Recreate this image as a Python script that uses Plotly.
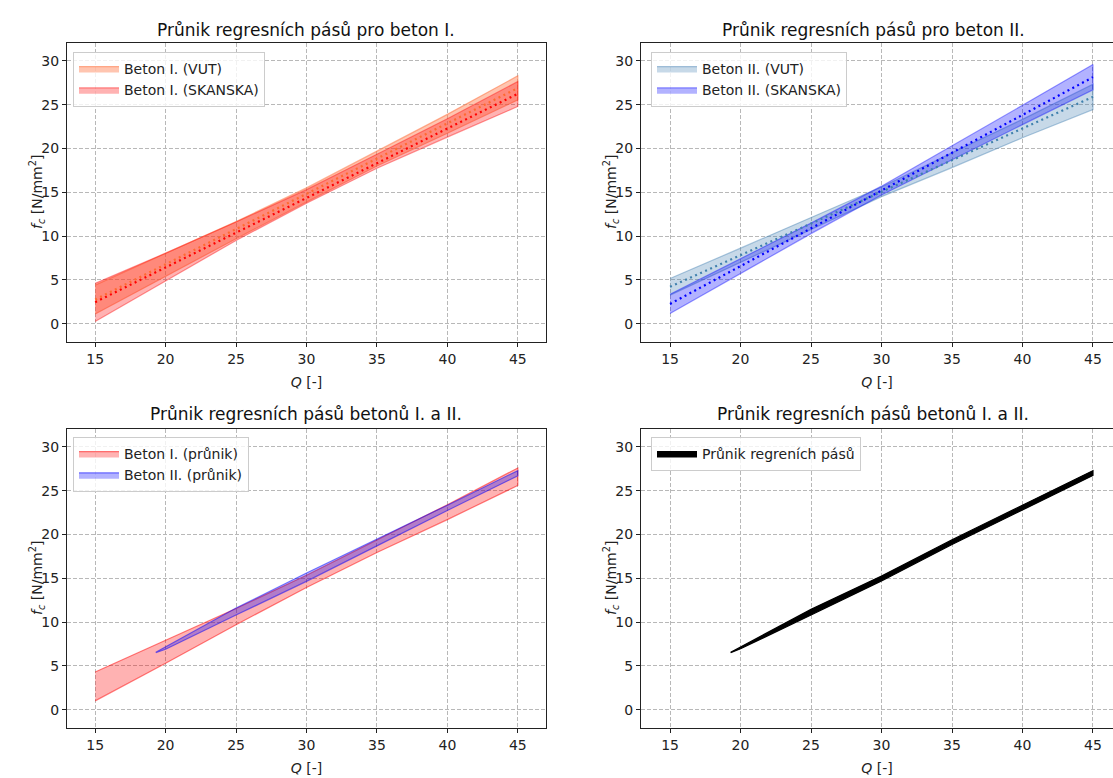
import plotly.graph_objects as go

# ---------------- data ----------------
Q = [15, 20, 25, 30, 35, 40, 45]

# Beton I
vut1_lo = [1.1, 5.4, 9.7, 13.9, 18.0, 21.75, 25.55]
vut1_hi = [4.4, 8.0, 11.65, 15.5, 19.7, 23.9, 28.3]
vut1_mean = [2.75, 6.77, 10.8, 14.82, 18.85, 22.87, 26.9]
sk1_lo = [0.25, 4.9, 9.5, 13.75, 17.75, 21.3, 24.8]
sk1_hi = [4.6, 8.05, 11.6, 15.3, 19.35, 23.4, 27.65]
sk1_mean = [2.45, 6.42, 10.38, 14.35, 18.32, 22.28, 26.25]

# Beton II
vut2_lo = [3.25, 7.02, 10.78, 14.5, 17.82, 21.23, 24.45]
vut2_hi = [5.15, 8.62, 12.08, 15.6, 19.52, 23.33, 27.35]
vut2_mean = [4.2, 7.82, 11.43, 15.05, 18.67, 22.28, 25.9]
sk2_lo = [1.15, 5.72, 10.28, 14.7, 18.75, 22.73, 26.7]
sk2_hi = [3.35, 7.42, 11.48, 15.7, 20.29, 24.93, 29.6]
sk2_mean = [2.25, 6.57, 10.88, 15.2, 19.52, 23.83, 28.15]

# Intersections
int1_lo = [1.0, 5.3, 9.7, 13.95, 17.95, 21.7, 25.6]
int1_hi = [4.3, 7.95, 11.55, 15.35, 19.4, 23.4, 27.6]
Q2 = [19.3, 20, 25, 30, 35, 40, 45]
int2_lo = [6.5, 6.9, 10.8, 14.65, 18.7, 22.75, 26.7]
int2_hi = [6.55, 7.1, 11.6, 15.6, 19.5, 23.35, 27.3]
all_lo = [6.5, 6.95, 10.8, 14.7, 18.85, 22.8, 26.75]
all_hi = [6.55, 7.15, 11.45, 15.25, 19.4, 23.35, 27.3]

titles = ["Průnik regresních pásů pro beton I.", "Průnik regresních pásů pro beton II.",
          "Průnik regresních pásů betonů I. a II.", "Průnik regresních pásů betonů I. a II."]
x_ticks = [15, 20, 25, 30, 35, 40, 45]
y_ticks = [0, 5, 10, 15, 20, 25, 30]
y_title = "<i>f</i><sub><i>c</i></sub> [N/mm<sup>2</sup>]"

FONT = "DejaVu Sans"
fig = go.Figure()


def band(x, lo, hi, fill, line, name, ax, leg):
    fig.add_trace(go.Scatter(
        x=list(x) + list(x)[::-1], y=list(lo) + list(hi)[::-1],
        fill="toself", fillcolor=fill, mode="lines",
        line=dict(color=line, width=1.2), name=name,
        xaxis="x" + ax, yaxis="y" + ax, legend=leg, hoverinfo="skip"))


def mean_line(x, y, color, ax):
    fig.add_trace(go.Scatter(
        x=x, y=y, mode="lines", line=dict(color=color, width=2.2, dash="2px,3.5px"),
        showlegend=False, xaxis="x" + ax, yaxis="y" + ax, hoverinfo="skip"))


# subplot 1
band(Q, vut1_lo, vut1_hi, "rgba(255,127,80,0.45)", "rgba(255,127,80,0.6)", "Beton I. (VUT)", "", "legend")
band(Q, sk1_lo, sk1_hi, "rgba(255,0,0,0.3)", "rgba(255,0,0,0.4)", "Beton I. (SKANSKA)", "", "legend")
mean_line(Q, vut1_mean, "#ff6a30", "")
mean_line(Q, sk1_mean, "#ff0000", "")

# subplot 2
band(Q, vut2_lo, vut2_hi, "rgba(70,130,180,0.3)", "rgba(70,130,180,0.45)", "Beton II. (VUT)", "2", "legend2")
band(Q, sk2_lo, sk2_hi, "rgba(0,0,255,0.3)", "rgba(0,0,255,0.4)", "Beton II. (SKANSKA)", "2", "legend2")
mean_line(Q, vut2_mean, "#3f80ad", "2")
mean_line(Q, sk2_mean, "#0000ff", "2")

# subplot 3
band(Q, int1_lo, int1_hi, "rgba(255,0,0,0.3)", "rgba(255,0,0,0.5)", "Beton I. (průnik)", "3", "legend3")
band(Q2, int2_lo, int2_hi, "rgba(0,0,255,0.3)", "rgba(0,0,255,0.5)", "Beton II. (průnik)", "3", "legend3")

# subplot 4
band(Q2, all_lo, all_hi, "black", "black", "Průnik regreních pásů", "4", "legend4")

W, H = 1113, 778
xl = [67 / W, 546 / W]
xr = [641 / W, 1.0]
yt = [1 - 342 / H, 1 - 43 / H]
yb = [1 - 728 / H, 1 - 429 / H]

GRID = dict(showgrid=True, gridcolor="#b8b8b8", griddash="4px,2px", gridwidth=1, zeroline=False)


def xaxis(dom, anchor, rng, mirror):
    return dict(domain=dom, anchor=anchor, range=rng, tickvals=x_ticks,
                ticks="outside", ticklen=4, tickwidth=1, tickcolor="#222",
                showline=True, linecolor="#222", linewidth=1.2, mirror=mirror,
                tickfont=dict(family=FONT, size=14, color="#222"),
                title=dict(text="<i>Q</i> [-]", font=dict(family=FONT, size=14, color="#222"), standoff=11),
                **GRID)


def yaxis(dom, anchor, mirror):
    return dict(domain=dom, anchor=anchor, range=[-2.1, 32.05], tickvals=y_ticks,
                ticks="outside", ticklen=4, tickwidth=1, tickcolor="#222",
                showline=True, linecolor="#222", linewidth=1.2, mirror=mirror,
                tickfont=dict(family=FONT, size=14, color="#222"),
                **GRID)


def legend(x, y):
    return dict(x=x, y=y, xanchor="left", yanchor="top", bgcolor="rgba(255,255,255,0.8)",
                bordercolor="#cccccc", borderwidth=1, font=dict(family=FONT, size=14, color="#222"),
                itemwidth=40, tracegroupgap=2)


ann = []
for t, (cx, cy) in zip(titles, [(306 / W, 1 - 30 / H), (873 / W, 1 - 30 / H),
                                 (306 / W, 1 - 414 / H), (873 / W, 1 - 414 / H)]):
    ann.append(dict(text=t, x=cx, y=cy, xref="paper", yref="paper", showarrow=False,
                    xanchor="center", yanchor="middle", font=dict(family=FONT, size=17, color="#111")))
# y-axis titles
for cx, cy in [(37 / W, 1 - 192 / H), (611 / W, 1 - 192 / H),
               (37 / W, 1 - 578 / H), (611 / W, 1 - 578 / H)]:
    ann.append(dict(text=y_title, x=cx, y=cy, xref="paper", yref="paper", showarrow=False,
                    textangle=-90, xanchor="center", yanchor="middle",
                    font=dict(family=FONT, size=14, color="#222")))

fig.update_layout(
    width=W, height=H, margin=dict(l=0, r=0, t=0, b=0),
    plot_bgcolor="white", paper_bgcolor="white",
    font=dict(family=FONT, color="#222"),
    xaxis=xaxis(xl, "y", [13.0, 47.0], True),
    yaxis=yaxis(yt, "x", True),
    xaxis2=xaxis(xr, "y2", [12.94, 46.42], True),
    yaxis2=yaxis(yt, "x2", False),
    xaxis3=xaxis(xl, "y3", [13.0, 47.0], True),
    yaxis3=yaxis(yb, "x3", True),
    xaxis4=xaxis(xr, "y4", [12.94, 46.42], True),
    yaxis4=yaxis(yb, "x4", False),
    legend=legend(73 / W, 1 - 52 / H),
    legend2=legend(651 / W, 1 - 52 / H),
    legend3=legend(73 / W, 1 - 437 / H),
    legend4=legend(651 / W, 1 - 437 / H),
    annotations=ann,
)

fig.write_html("out.html", config={"displayModeBar": False})

# remove default page margins so the figure sits at the window's origin
with open("out.html", encoding="utf-8") as f:
    html = f.read()
html = html.replace("<head>", "<head><style>html,body{margin:0;padding:0;overflow:hidden}</style>", 1)
with open("out.html", "w", encoding="utf-8") as f:
    f.write(html)
